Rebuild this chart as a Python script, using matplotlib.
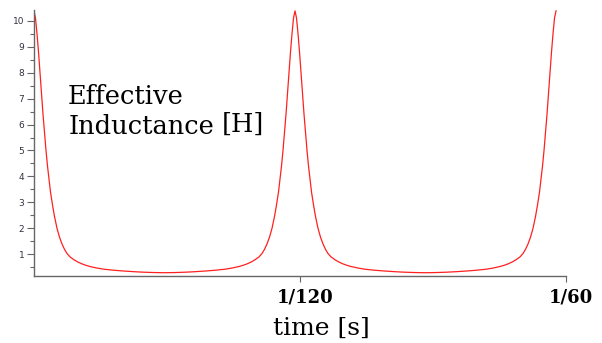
import matplotlib
matplotlib.use("Agg")
from matplotlib import pyplot as plt
from matplotlib.transforms import ScaledTranslation

# время в миллисекундах и эффективная индуктивность (Гн)
t_ms = [
    # спад от первого пика
    0.000, 0.047, 0.094, 0.141, 0.188, 0.235, 0.282, 0.329, 0.376, 0.423,
    0.470, 0.517, 0.580, 0.642, 0.721, 0.799, 0.877, 0.956, 1.034, 1.128,
    1.253, 1.379, 1.504, 1.629, 1.754, 1.974, 2.193, 2.506, 2.820, 3.133,
    3.446, 3.760, 4.089,
    # рост ко второму пику
    4.417, 4.731, 5.044, 5.357, 5.671, 5.984, 6.203, 6.423, 6.548, 6.673,
    6.798, 6.924, 7.049, 7.143, 7.221, 7.300, 7.378, 7.456, 7.535, 7.597,
    7.660, 7.707, 7.754, 7.801, 7.848, 7.895, 7.942, 7.989, 8.036, 8.083,
    8.130, 8.177,
    # спад от второго пика
    8.224, 8.271, 8.318, 8.365, 8.412, 8.459, 8.506, 8.553, 8.600, 8.647,
    8.694, 8.757, 8.819, 8.898, 8.976, 9.054, 9.133, 9.211, 9.305, 9.430,
    9.556, 9.681, 9.806, 9.931, 10.151, 10.370, 10.683, 10.997, 11.310,
    11.623, 11.937, 12.266,
    # рост к третьему пику
    12.594, 12.908, 13.221, 13.534, 13.848, 14.161, 14.380, 14.600, 14.725,
    14.850, 14.975, 15.101, 15.226, 15.320, 15.398, 15.477, 15.555, 15.633,
    15.712, 15.774, 15.837, 15.884, 15.931, 15.978, 16.025, 16.072, 16.119,
    16.166, 16.213, 16.260, 16.307, 16.354,
]
L_eff = [
    10.38, 10.10, 9.50, 8.80, 8.00, 7.20, 6.40, 5.70, 5.00, 4.40,
    3.90, 3.40, 2.90, 2.46, 2.00, 1.66, 1.40, 1.19, 1.03, 0.90,
    0.79, 0.70, 0.63, 0.575, 0.53, 0.47, 0.425, 0.385, 0.355, 0.33,
    0.31, 0.297, 0.29,
    0.297, 0.31, 0.33, 0.355, 0.385, 0.425, 0.47, 0.53, 0.575, 0.63,
    0.70, 0.79, 0.90, 1.03, 1.19, 1.40, 1.66, 2.00, 2.46, 2.90,
    3.40, 3.90, 4.40, 5.00, 5.70, 6.40, 7.20, 8.00, 8.80, 9.50,
    10.10, 10.38,
    10.10, 9.50, 8.80, 8.00, 7.20, 6.40, 5.70, 5.00, 4.40, 3.90,
    3.40, 2.90, 2.46, 2.00, 1.66, 1.40, 1.19, 1.03, 0.90, 0.79,
    0.70, 0.63, 0.575, 0.53, 0.47, 0.425, 0.385, 0.355, 0.33,
    0.31, 0.297, 0.29,
    0.297, 0.31, 0.33, 0.355, 0.385, 0.425, 0.47, 0.53, 0.575,
    0.63, 0.70, 0.79, 0.90, 1.03, 1.19, 1.40, 1.66, 2.00,
    2.46, 2.90, 3.40, 3.90, 4.40, 5.00, 5.70, 6.40, 7.20,
    8.00, 8.80, 9.50, 10.10, 10.38,
]

x_ticks = [1000 / 120, 1000 / 60]
x_tick_labels = ["1/120", "1/60"]
y_ticks = [1, 2, 3, 4, 5, 6, 7, 8, 9, 10]

fig = plt.figure(figsize=(6.02, 3.43), dpi=100)
ax = fig.add_axes([34 / 602, 67 / 343, 532 / 602, 266.2 / 343])

ax.plot(t_ms, L_eff, color="#ff2020", linewidth=0.9)

ax.set_xlim(0, 1000 / 60)
ax.set_ylim(0.164, 10.42)

# оси: только левая и нижняя
for side in ("top", "right"):
    ax.spines[side].set_visible(False)
for side in ("left", "bottom"):
    ax.spines[side].set_color("#666666")
    ax.spines[side].set_linewidth(1.0)

ax.set_xticks(x_ticks)
ax.set_xticklabels(x_tick_labels, fontfamily="DejaVu Serif",
                   fontweight="bold", fontsize=13)
ax.tick_params(axis="x", length=4, width=0.8, color="#666666", pad=5)
# подписи чуть правее рисок
shift = ScaledTranslation(5 / 100, 0, fig.dpi_scale_trans)
for lbl in ax.get_xticklabels():
    lbl.set_transform(lbl.get_transform() + shift)

ax.set_yticks(y_ticks)
ax.set_yticks([v + 0.5 for v in range(0, 10)], minor=True)
ax.tick_params(axis="y", which="major", length=5, width=0.8,
               color="#666666", labelsize=6.5, labelcolor="#333344", pad=2)
ax.tick_params(axis="y", which="minor", length=3, width=0.8, color="#666666")

# подпись оси времени
ax.set_xlabel("time [s]", fontfamily="DejaVu Serif", fontsize=18)
ax.xaxis.set_label_coords((321 - 34) / 532, -59 / 266.2)
ax.xaxis.label.set_va("baseline")

# подпись величины внутри графика
ax.text(68 / 602, (343 - 104) / 343, "Effective", transform=fig.transFigure,
        fontfamily="DejaVu Serif", fontsize=18.5, va="baseline", ha="left")
ax.text(69 / 602, (343 - 134) / 343, "Inductance", transform=fig.transFigure,
        fontfamily="DejaVu Serif", fontsize=18.5, va="baseline", ha="left")
ax.text(222 / 602, (343 - 132) / 343, "[H]", transform=fig.transFigure,
        fontfamily="DejaVu Serif", fontsize=18.5, va="baseline", ha="left")

fig.savefig("out.png", dpi=100)
